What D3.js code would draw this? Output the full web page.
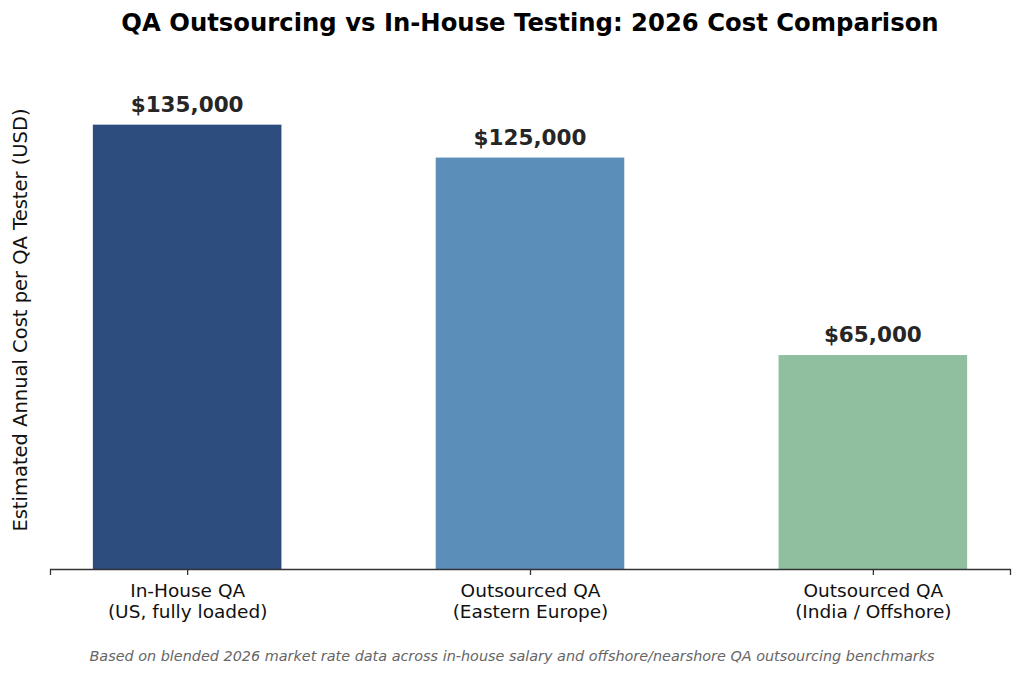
<!DOCTYPE html>
<html>
<head>
<meta charset="utf-8">
<script src="https://cdn.jsdelivr.net/npm/d3@7"></script>
<style>
  body { margin: 0; background: #fff; }
  svg, svg text { font-family: "DejaVu Sans", sans-serif; }
</style>
</head>
<body>
<script>
(function() {
  var width = 1024;
  var height = 676;
  var margin = { top: 58, right: 14, bottom: 107, left: 50 };

  // chart data
  var categories = ['In-House QA|(US, fully loaded)', 'Outsourced QA|(Eastern Europe)', 'Outsourced QA|(India / Offshore)'];
  var costs = [135000, 125000, 65000];
  var colors = ['#2c4d7e', '#5b8fba', '#90bf9f'];
  var dataset = categories.map((c, i) => ({ label: c, cost: costs[i], color: colors[i] }));

  var svg = d3.select('body')
    .append('svg')
    .attr('width', width)
    .attr('height', height);

  var xScale = d3.scalePoint()
    .domain(categories)
    .range([margin.left, width - margin.right])
    .padding(0.4);

  var yScale = d3.scaleLinear()
    .domain([0, d3.max(costs) * 1.15])
    .range([height - margin.bottom, margin.top]);

  var barWidth = xScale.step() * 0.55;

  // bars
  svg.selectAll('rect.bar')
    .data(dataset)
    .enter()
    .append('rect')
    .attr('class', 'bar')
    .attr('x', d => xScale(d.label) - barWidth / 2)
    .attr('y', d => yScale(d.cost))
    .attr('width', barWidth)
    .attr('height', d => yScale(0) - yScale(d.cost))
    .attr('fill', d => d.color);

  // value labels
  svg.selectAll('text.value')
    .data(dataset)
    .enter()
    .append('text')
    .attr('class', 'value')
    .attr('x', d => xScale(d.label))
    .attr('y', d => yScale(d.cost) - 13)
    .attr('text-anchor', 'middle')
    .attr('font-size', 21.5)
    .attr('font-weight', 'bold')
    .attr('fill', '#262626')
    .text(d => '$' + d3.format(',')(d.cost));

  // x axis
  var xAxis = d3.axisBottom(xScale).tickSize(6).tickPadding(6).tickFormat('');
  var gx = svg.append('g')
    .attr('class', 'x axis')
    .attr('transform', `translate(0, ${yScale(0)})`)
    .call(xAxis)
    .attr('font-family', null);
  gx.select('.domain').attr('stroke', '#333').attr('stroke-width', 1.3);
  gx.selectAll('.tick line').attr('stroke', '#333').attr('stroke-width', 1.3);

  gx.selectAll('.tick')
    .append('text')
    .attr('fill', '#111')
    .attr('font-size', 18.5)
    .attr('text-anchor', 'middle')
    .selectAll('tspan')
    .data(d => d.split('|'))
    .enter()
    .append('tspan')
    .attr('x', 0)
    .attr('y', (d, i) => 28 + i * 21)
    .text(d => d);

  // y label
  svg.append('text')
    .attr('transform', `translate(27, 320) rotate(-90)`)
    .attr('text-anchor', 'middle')
    .attr('font-size', 19.5)
    .attr('fill', '#111')
    .text('Estimated Annual Cost per QA Tester (USD)');

  // title
  svg.append('text')
    .attr('x', (margin.left + width - margin.right) / 2)
    .attr('y', 31)
    .attr('text-anchor', 'middle')
    .attr('font-size', 24.3)
    .attr('font-weight', 'bold')
    .text('QA Outsourcing vs In-House Testing: 2026 Cost Comparison');

  // footnote
  svg.append('text')
    .attr('x', width / 2)
    .attr('y', 661)
    .attr('text-anchor', 'middle')
    .attr('font-size', 14.4)
    .attr('font-style', 'italic')
    .attr('fill', '#666')
    .text('Based on blended 2026 market rate data across in-house salary and offshore/nearshore QA outsourcing benchmarks');
})();
</script>
</body>
</html>
